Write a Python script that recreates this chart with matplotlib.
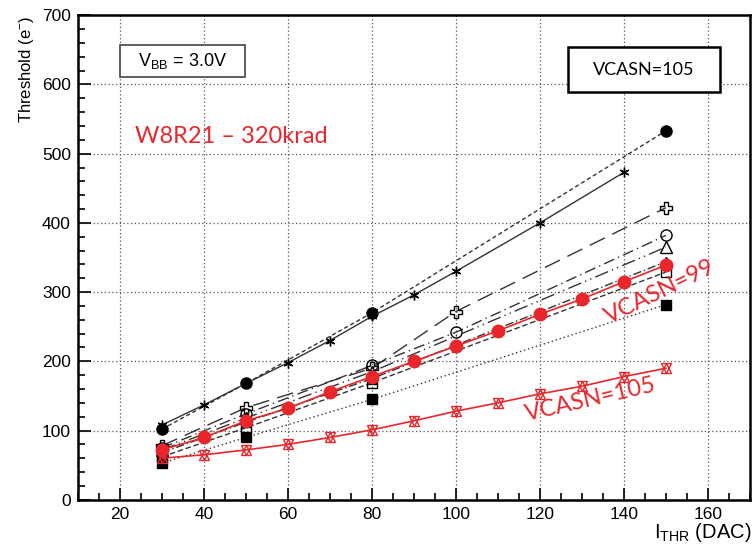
import matplotlib
matplotlib.use('Agg')
import matplotlib.pyplot as plt
from matplotlib.ticker import MultipleLocator
from matplotlib.patches import Rectangle

plt.rcParams['font.family'] = ['Liberation Sans', 'DejaVu Sans']
plt.rcParams['mathtext.fontset'] = 'custom'
plt.rcParams['mathtext.rm'] = 'Liberation Sans'

# ---- data ----
x_full = [30, 40, 50, 60, 70, 80, 90, 100, 110, 120, 130, 140, 150]
x_star = [30, 40, 50, 60, 70, 80, 90, 100, 120, 140]
x_four = [30, 50, 80, 150]
x_five = [30, 50, 80, 100, 150]

y_fcircle = [102, 168, 270, 533]
y_star = [108, 137, 168, 198, 230, 265, 296, 330, 400, 473]
y_cross = [78, 133, 190, 272, 422]
y_ocircle = [75, 124, 194, 242, 382]
y_otri = [72, 118, 185, 365]
y_ftri = [68, 112, 175, 344]
y_osquare = [62, 104, 169, 329]
y_fsquare = [53, 90, 145, 282]

y_vcasn99 = [72, 90, 114, 132, 156, 178, 200, 222, 244, 268, 290, 315, 339]
y_vcasn105 = [60, 65, 72, 80, 90, 101, 114, 128, 140, 153, 164, 178, 190]

red = '#e8262c'

fig = plt.figure(figsize=(7.56, 5.45), dpi=100)
ax = fig.add_axes([0.103, 0.083, 0.889, 0.889])

black_series = [
    (x_four, y_fcircle, 'o', 'full', (0, (3, 2)), 8),
    (x_star, y_star, (6, 2, 0), 'full', '-', 7),
    (x_five, y_cross, 'P', 'none', (0, (12, 6)), 8),
    (x_five, y_ocircle, 'o', 'none', (0, (8, 3, 1, 3)), 8),
    (x_four, y_otri, '^', 'none', (0, (10, 3, 1, 3, 1, 3)), 8),
    (x_four, y_ftri, '^', 'full', (0, (6, 2, 1, 2)), 7),
    (x_four, y_osquare, 's', 'none', (0, (4, 2)), 7),
    (x_four, y_fsquare, 's', 'full', (0, (1, 2)), 7),
]
for xs, ys, mk, fill, ls, ms in black_series:
    ax.plot(xs, ys, color='#333333', lw=1.0, linestyle=ls, marker=mk,
            markersize=ms, fillstyle=fill, markeredgecolor='black',
            markerfacecolor='black' if fill == 'full' else 'none',
            markeredgewidth=1.0, zorder=3)

ax.plot(x_full, y_vcasn99, color=red, lw=1.2, marker='o', markersize=9,
        markerfacecolor=red, markeredgecolor=red, zorder=4)
ax.plot(x_full, y_vcasn105, color=red, lw=1.2, marker='v', markersize=7,
        markerfacecolor='none', markeredgecolor=red, zorder=4)
ax.plot(x_full, y_vcasn105, linestyle='none', marker='^', markersize=7,
        markerfacecolor='none', markeredgecolor=red, zorder=4)

ax.set_xlim(10, 170)
ax.set_ylim(0, 700)
ax.xaxis.set_major_locator(MultipleLocator(20))
ax.xaxis.set_minor_locator(MultipleLocator(5))
ax.yaxis.set_major_locator(MultipleLocator(100))
ax.yaxis.set_minor_locator(MultipleLocator(20))
ax.tick_params(which='both', direction='in', top=False, right=False,
               labelsize=12.5, width=1.2)
ax.tick_params(which='major', length=9, pad=5)
ax.tick_params(which='minor', length=5)
for sp in ax.spines.values():
    sp.set_linewidth(1.8)
ax.grid(True, which='major', linestyle=(0, (1, 2)), color='#555555', lw=0.9)

ax.set_ylabel('Threshold (e$^{-}$)', fontsize=12, loc='top', labelpad=4)
fig.text(0.994, 0.002, r'I$_{\mathrm{THR}}$ (DAC)', fontsize=14.5,
         ha='right', va='bottom')

# boxes
ax.add_patch(Rectangle((0.062, 0.872), 0.186, 0.066, transform=ax.transAxes,
                       fc='white', ec='#444444', lw=1.2, zorder=5))
ax.text(0.155, 0.905, r'V$_{\mathrm{BB}}$ = 3.0V', transform=ax.transAxes,
        fontsize=13, ha='center', va='center', zorder=6)
ax.add_patch(Rectangle((0.729, 0.842), 0.226, 0.093, transform=ax.transAxes,
                       fc='white', ec='black', lw=1.8, zorder=5))
ax.text(0.842, 0.888, 'VCASN=105', transform=ax.transAxes, fontsize=13,
        family='Lato', ha='center', va='center', zorder=6)

ax.text(23.5, 525, 'W8R21 \u2013 320krad', color=red, fontsize=17, family='Lato',
        ha='left', va='center')
ax.text(148.5, 300, 'VCASN=99', color=red, fontsize=17, family='Lato',
        ha='center', va='center', rotation=26)
ax.text(132, 144, 'VCASN=105', color=red, fontsize=17, family='Lato',
        ha='center', va='center', rotation=13)

fig.savefig('out.png', dpi=100)
